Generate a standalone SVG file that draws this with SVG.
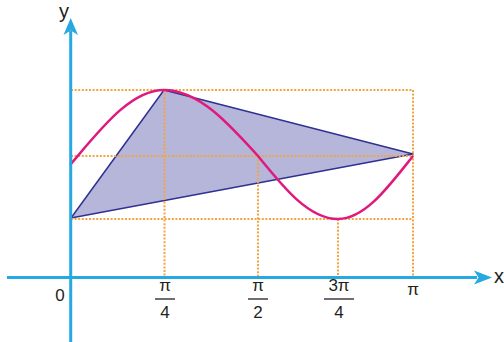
<svg xmlns="http://www.w3.org/2000/svg" width="504" height="342" viewBox="0 0 504 342">
<style>
.grid{fill:none;stroke:#f4a340;stroke-width:2;stroke-dasharray:2 1.6}
.axis{fill:none;stroke:#25a9e0;stroke-width:3}
.head{fill:#25a9e0}
.lbl{font-family:"Liberation Sans",Arial,sans-serif;font-size:17px;fill:#231f20;text-anchor:middle}
.frac{stroke:#231f20;stroke-width:1.3}
</style>
<rect width="504" height="342" fill="#ffffff"/>
<g id="triangle">
<polygon points="71,218 164,90 413,154" fill="#b6b6da" stroke="#2e3192" stroke-width="1.5" stroke-linejoin="round"/>
</g>
<g id="grid">
<line class="grid" x1="71" y1="90" x2="413" y2="90"/>
<line class="grid" x1="71" y1="156" x2="413" y2="156"/>
<line class="grid" x1="71" y1="219" x2="413" y2="219"/>
<line class="grid" x1="164.5" y1="90" x2="164.5" y2="276"/>
<line class="grid" x1="258" y1="156" x2="258" y2="276"/>
<line class="grid" x1="338" y1="219" x2="338" y2="276"/>
<line class="grid" x1="413" y1="90" x2="413" y2="276"/>
</g>
<g id="curve">
<path d="M70,165 C100,130 130,90 164,90 C198,90 227.4,122.2 258,156 C284.1,188.3 309,219 338,219 C365.2,219 388.5,186.7 413,156" fill="none" stroke="#e0197d" stroke-width="2.5"/>
</g>
<g id="axes">
<line class="axis" x1="7" y1="277.5" x2="477" y2="277.5"/>
<polygon class="head" points="492,277.5 474,270.5 478.5,277.5 474,284.5"/>
<line class="axis" x1="70.7" y1="342" x2="70.7" y2="31"/>
<polygon class="head" points="70.7,18 63.5,35 70.7,30.5 78,35"/>
</g>
<g id="labels">
<text class="lbl" x="64" y="18" style="font-size:20px">y</text>
<text class="lbl" x="499" y="283" style="font-size:20px">x</text>
<text class="lbl" x="60" y="301">0</text>
<text class="lbl" x="165" y="291">π</text>
<line class="frac" x1="155" y1="299" x2="175" y2="299"/>
<text class="lbl" x="165" y="318">4</text>
<text class="lbl" x="258" y="291">π</text>
<line class="frac" x1="248" y1="299" x2="268" y2="299"/>
<text class="lbl" x="258" y="318">2</text>
<text class="lbl" x="339" y="291">3π</text>
<line class="frac" x1="324" y1="299" x2="354" y2="299"/>
<text class="lbl" x="339" y="318">4</text>
<text class="lbl" x="413" y="295">π</text>
</g>
</svg>
